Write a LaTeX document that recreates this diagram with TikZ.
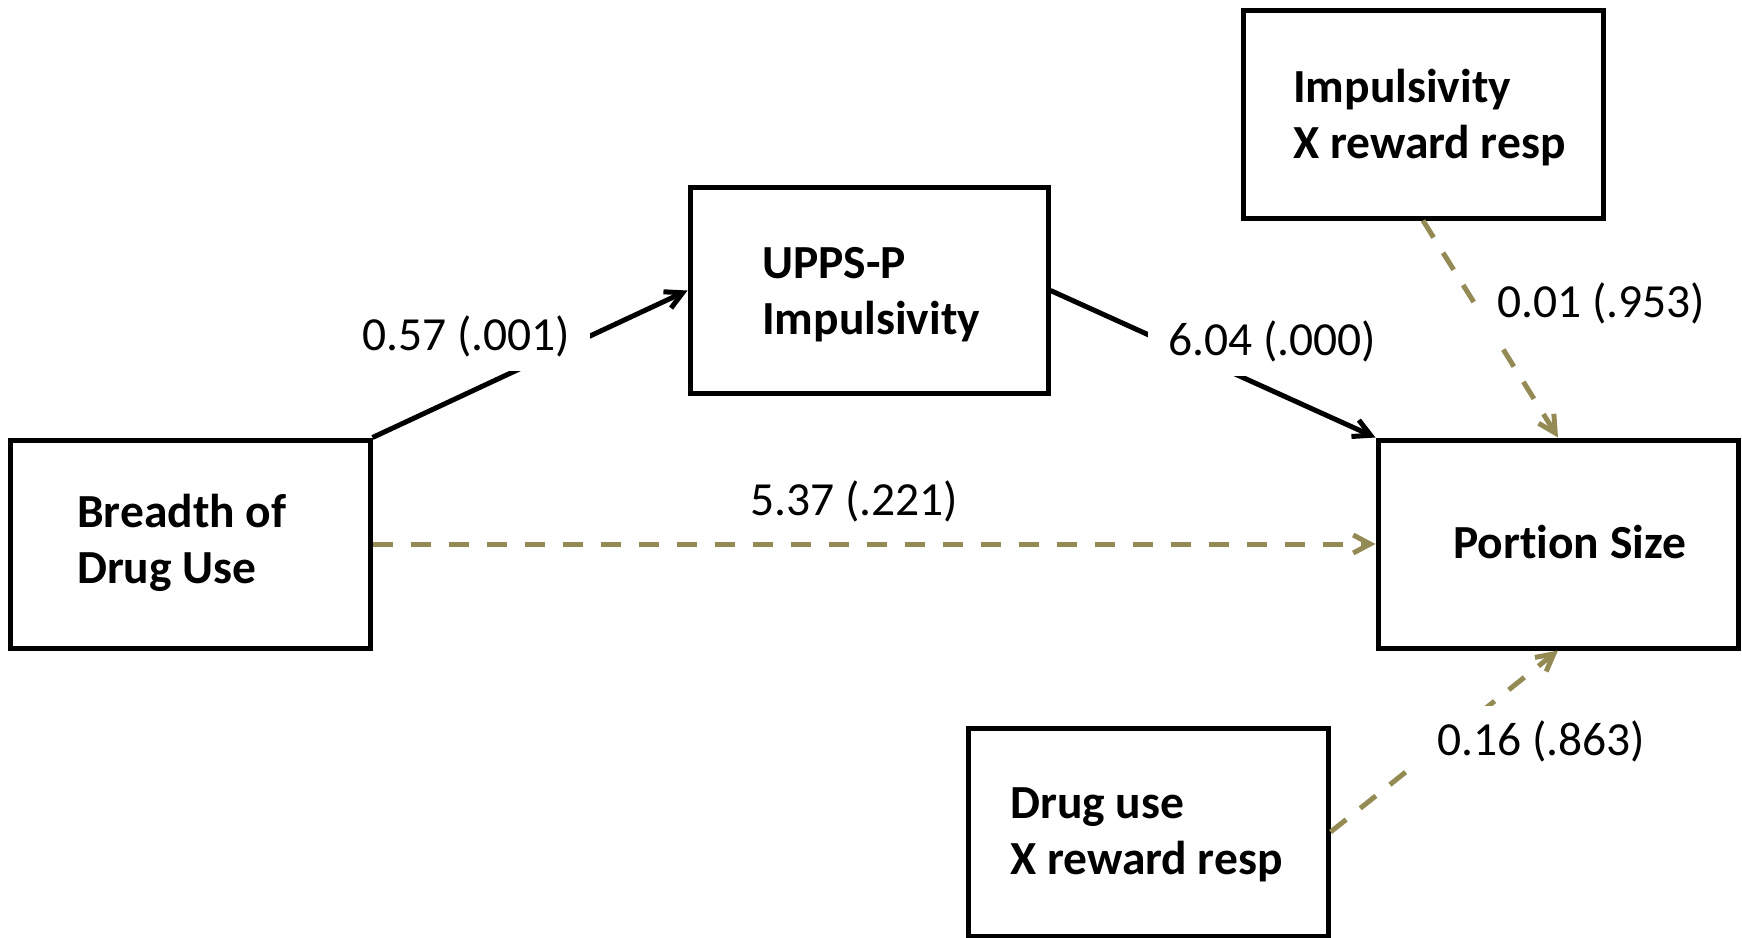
\documentclass[tikz,border=0pt]{standalone}
\usepackage{fontspec}
\setmainfont[RawFeature={-liga;-clig;-calt;-dlig}]{Carlito}
\usetikzlibrary{arrows.meta}
\definecolor{olivepath}{HTML}{948A54}
\tikzset{
  varbox/.style={draw=black, line width=5pt, fill=white, inner sep=0pt,
    minimum width=360pt, minimum height=208pt},
  boxtext/.style={inner sep=0pt, align=left,
    font=\fontsize{47.5}{56.5}\selectfont\bfseries},
  coef/.style={inner xsep=20pt, inner ysep=14pt,
    font=\fontsize{47.5}{56.5}\selectfont},
  solidpath/.style={draw=black, line width=5pt,
    -{Straight Barb[length=17pt, width=18pt, line width=5pt]}},
  dashpath/.style={draw=olivepath, line width=5pt, dash pattern=on 20pt off 18pt,
    -{Straight Barb[length=17pt, width=18pt, line width=5pt]}}
}
\begin{document}
\begin{tikzpicture}[x=1pt, y=-1pt]
\useasboundingbox (0,0) rectangle (1742,937);

% variable boxes
\node[varbox] (breadth) at (190,544) {};
\node[varbox, minimum width=358pt, minimum height=206pt] (upps) at (869,290.5) {};
\node[varbox] (impx) at (1423,114) {};
\node[varbox] (portion) at (1558,544) {};
\node[varbox] (drugx) at (1148,832) {};

% box captions
\node[boxtext, anchor=west] (breadthtxt) at (77,544) {\strut Breadth of\\Drug Use\strut};
\node[boxtext, anchor=west] (uppstxt) at (762,295) {\strut UPPS-P\\Impulsivity\strut};
\node[boxtext, anchor=west] (impxtxt) at (1293,119) {\strut Impulsivity\\X reward resp\strut};
\node[boxtext, anchor=base west] (portiontxt) at (1453,558) {Portion Size};
\node[boxtext, anchor=west] (drugxtxt) at (1010,835) {\strut Drug use\\X reward resp\strut};

% paths
\draw[solidpath] (breadth.north east) -- (upps.west);
\draw[solidpath] (upps.east) -- (portion.north west);
\draw[dashpath] (breadth.east) -- (portion.west);
\draw[dashpath] (impx.south) -- (portion.north);
\draw[dashpath] (drugx.east) -- (portion.south);

% path coefficients
\node[coef, fill=white, anchor=base west] (c1) at (342,350) {0.57 (.001)};
\node[coef, fill=white, anchor=base west] (c2) at (1148,355) {6.04 (.000)};
\node[coef, anchor=base west] (c3) at (730,515) {5.37 (.221)};
\node[coef, fill=white, anchor=base west] (c4) at (1477,317) {0.01 (.953)};
\node[coef, fill=white, anchor=base west] (c5) at (1417,755) {0.16 (.863)};
\end{tikzpicture}
\end{document}
